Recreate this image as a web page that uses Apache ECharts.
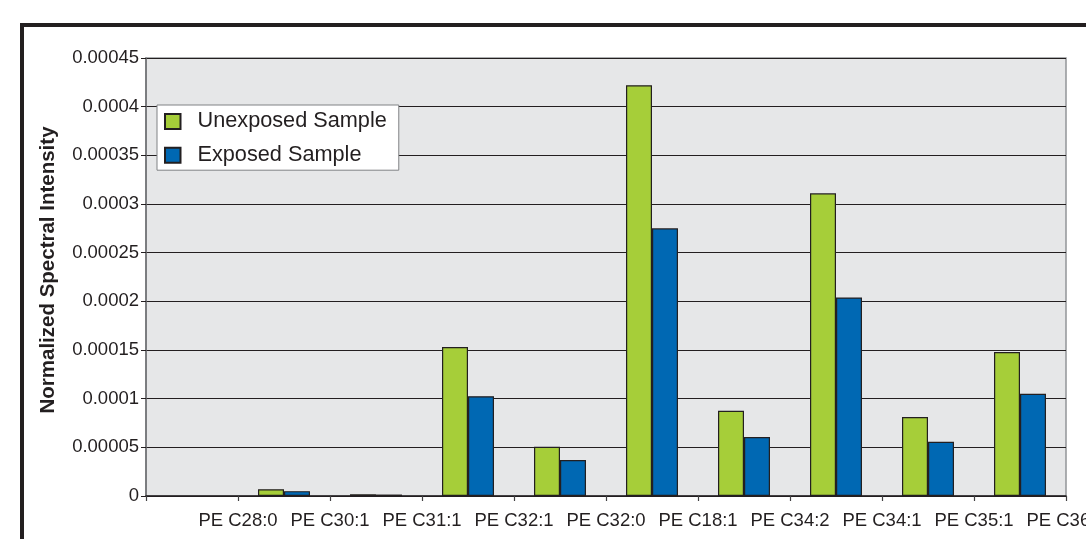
<!DOCTYPE html>
<html>
<head>
<meta charset="utf-8">
<title>Normalized Spectral Intensity</title>
<script src="https://cdn.jsdelivr.net/npm/echarts@6/dist/echarts.min.js"></script>
<style>
  html, body { margin: 0; padding: 0; background: #ffffff; }
  #chart { width: 1086px; height: 539px; }
</style>
</head>
<body>
<div id="chart"></div>
<script>
// Labels sit on the tick marks between category slots
const tickLabels = ['', 'PE C28:0', 'PE C30:1', 'PE C31:1', 'PE C32:1', 'PE C32:0',
                    'PE C18:1', 'PE C34:2', 'PE C34:1', 'PE C35:1', 'PE C36:1'];
// Bar slots (the first slot is empty)
const slots = ['', 'PE C28:0', 'PE C30:1', 'PE C31:1', 'PE C32:1', 'PE C32:0',
               'PE C18:1', 'PE C34:2', 'PE C34:1', 'PE C35:1'];
const unexposed = [null, 0.000007, 0.0000018, 0.000153, 0.0000506, 0.000422,
                   0.0000876, 0.000311, 0.0000812, 0.000148];
const exposed = [null, 0.000005, 0.0000015, 0.0001025, 0.000037, 0.000275,
                 0.0000606, 0.000204, 0.0000558, 0.000105];
const yTicks = { min: 0, max: 0.00045, step: 0.00005 };

const FONT = 'Liberation Sans, Arial, sans-serif';
const INK = '#231f20';

const chart = echarts.init(document.getElementById('chart'), null, { renderer: 'canvas' });

function fmt(v) {
  if (v === 0) return '0';
  return v.toFixed(5).replace(/0+$/, '').replace(/\.$/, '');
}

chart.setOption({
  backgroundColor: '#ffffff',
  animation: false,
  textStyle: { fontFamily: FONT, color: INK },
  graphic: [
    {
      type: 'rect', z: -10, silent: true,
      shape: { x: 22, y: 25, width: 2000, height: 2000 },
      style: { fill: 'none', stroke: INK, lineWidth: 4 }
    },
    {
      type: 'text', silent: true,
      x: 48, y: 270, rotation: Math.PI / 2,
      style: {
        text: 'Normalized Spectral Intensity',
        font: 'bold 20.5px ' + FONT,
        fill: INK, align: 'center', verticalAlign: 'middle'
      }
    }
  ],
  grid: {
    left: 146, right: 20, top: 58, bottom: 43,
    outerBoundsMode: 'none',
    containLabel: false,
    show: true, backgroundColor: '#e6e7e8',
    borderColor: '#939598', borderWidth: 1.5
  },
  legend: {
    orient: 'vertical',
    left: 157, top: 105,
    padding: [5.5, 12, 4, 7],
    backgroundColor: '#ffffff',
    borderColor: '#808285', borderWidth: 1,
    itemWidth: 15.5, itemHeight: 15,
    itemGap: 11.7,
    icon: 'rect',
    textStyle: { fontSize: 21.7, fontFamily: FONT, color: INK, padding: [0, 0, 0, 12] },
    data: ['Unexposed Sample', 'Exposed Sample']
  },
  xAxis: [
    {
      type: 'category', data: slots, boundaryGap: true, position: 'bottom',
      axisLine: { show: true, lineStyle: { color: INK, width: 1.5 } },
      axisTick: { show: false },
      axisLabel: { show: false },
      splitLine: { show: false }
    },
    {
      type: 'category', data: tickLabels, boundaryGap: false, position: 'bottom',
      axisLine: { show: false },
      axisTick: { show: true, length: 5, lineStyle: { color: '#414042', width: 1.2 } },
      axisLabel: { show: true, interval: 0, margin: 15, fontSize: 18.5, fontFamily: FONT, color: INK },
      splitLine: { show: false }
    }
  ],
  yAxis: {
    type: 'value', min: yTicks.min, max: yTicks.max, interval: yTicks.step,
    axisLine: { show: true, lineStyle: { color: '#6d6e71', width: 1.5 } },
    axisTick: { show: true, length: 5, lineStyle: { color: INK, width: 1 } },
    axisLabel: { margin: 7, fontSize: 18.5, fontFamily: FONT, color: INK, formatter: fmt },
    splitLine: { show: true, lineStyle: { color: INK, width: 1 } }
  },
  series: [
    {
      name: 'Unexposed Sample', type: 'bar', xAxisIndex: 0,
      data: unexposed, barGap: '0%', barCategoryGap: '43.5%',
      itemStyle: { color: '#a6ce39', borderColor: INK, borderWidth: 1.2 }
    },
    {
      name: 'Exposed Sample', type: 'bar', xAxisIndex: 0,
      data: exposed, barGap: '0%', barCategoryGap: '43.5%',
      itemStyle: { color: '#0068b3', borderColor: INK, borderWidth: 1.2 }
    }
  ]
});
</script>
</body>
</html>
